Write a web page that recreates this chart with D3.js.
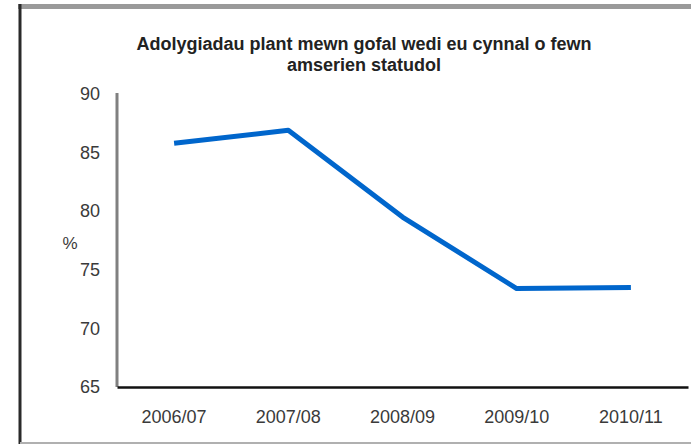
<!DOCTYPE html>
<html>
<head>
<meta charset="utf-8">
<script src="https://cdn.jsdelivr.net/npm/d3@7"></script>
<style>
  body { margin: 0; background: #fff; }
  svg { display: block; }
</style>
</head>
<body>
<script>
const width = 691;
const height = 446;

// chart data
const years = ["2006/07", "2007/08", "2008/09", "2009/10", "2010/11"];
const percents = [85.8, 86.9, 79.5, 73.4, 73.5];
const yTicks = [65, 70, 75, 80, 85, 90];
const titleLines = ["Adolygiadau plant mewn gofal wedi eu cynnal o fewn", "amserien statudol"];

const plotLeft = 117, plotRight = 688, plotTop = 94, plotBottom = 387;

const svg = d3.select("body")
  .append("svg")
  .attr("width", width)
  .attr("height", height);

// outer frame
svg.append("rect").attr("x", 18).attr("y", 4).attr("width", width - 18).attr("height", 5).attr("fill", "#9a9a9a");
svg.append("line").attr("x1", 20).attr("x2", 20).attr("y1", 4).attr("y2", 444)
  .attr("stroke", "#2a2a2a").attr("stroke-width", 3);
svg.append("line").attr("x1", 20).attr("x2", width).attr("y1", 443).attr("y2", 443)
  .attr("stroke", "#b0b0b0").attr("stroke-width", 2);

const xScale = d3.scaleBand()
  .domain(years)
  .range([plotLeft, plotRight]);

const yScale = d3.scaleLinear()
  .domain([65, 90])
  .range([plotBottom, plotTop]);

// title
svg.append("g").selectAll("text")
  .data(titleLines)
  .enter()
  .append("text")
  .attr("x", 364)
  .attr("y", (d, i) => 50 + i * 21)
  .attr("text-anchor", "middle")
  .attr("font-family", "Liberation Sans, Arial, sans-serif")
  .attr("font-size", 18)
  .attr("font-weight", "bold")
  .attr("fill", "#222")
  .text(d => d);

const yAxis = d3.axisLeft(yScale).tickValues(yTicks).tickSize(0).tickPadding(17);
const xAxis = d3.axisBottom(xScale).tickSize(0).tickPadding(23);

const gy = svg.append("g")
  .attr("transform", `translate(${plotLeft}, 0)`)
  .call(yAxis);
gy.select(".domain").attr("stroke", "#808080").attr("stroke-width", 3).attr("d", `M0,${plotTop - 1}V${plotBottom}`);

const gx = svg.append("g")
  .attr("transform", `translate(0, ${plotBottom})`)
  .call(xAxis);
gx.select(".domain").attr("stroke", "#111").attr("stroke-width", 2.5);

svg.selectAll(".tick text")
  .attr("font-family", "Liberation Sans, Arial, sans-serif")
  .attr("font-size", 18)
  .attr("fill", "#3a3a3a");

// y axis label
svg.append("text")
  .attr("x", 70)
  .attr("y", 249)
  .attr("text-anchor", "middle")
  .attr("font-family", "Liberation Sans, Arial, sans-serif")
  .attr("font-size", 17)
  .attr("fill", "#3a3a3a")
  .text("%");

const line = d3.line()
  .x((d, i) => xScale(years[i]) + xScale.bandwidth() / 2)
  .y(d => yScale(d));

svg.append("path")
  .datum(percents)
  .attr("d", line)
  .attr("fill", "none")
  .attr("stroke", "#0066cc")
  .attr("stroke-width", 5)
  .attr("stroke-linejoin", "round");
</script>
</body>
</html>
